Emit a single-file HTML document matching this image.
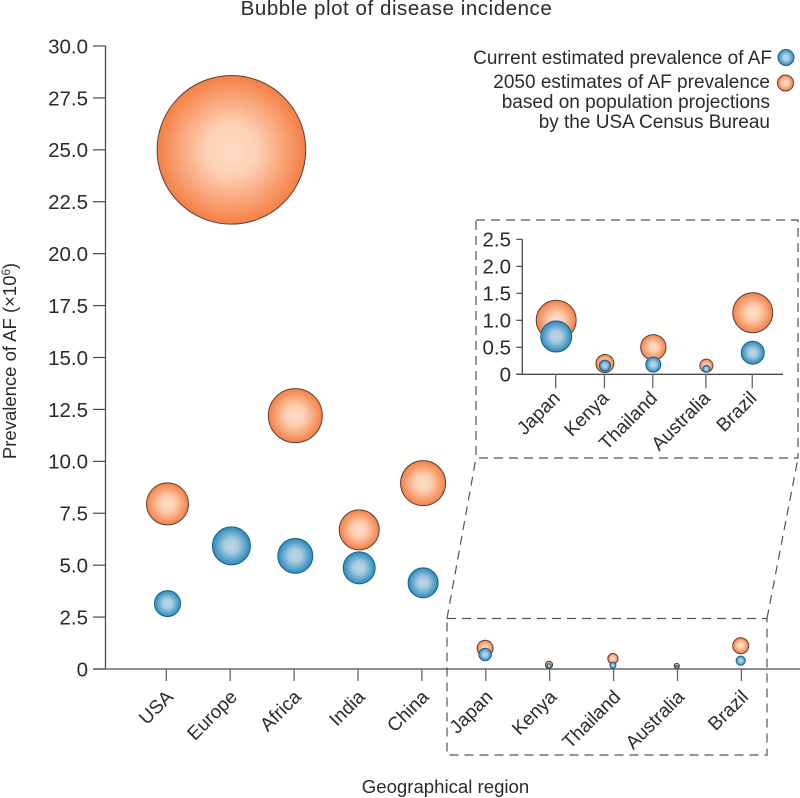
<!DOCTYPE html>
<html lang="en">
<head>
<meta charset="utf-8">
<title>Bubble plot of disease incidence</title>
<style>
html,body{margin:0;padding:0;background:#fff;}
svg{display:block;}
text{font-family:"Liberation Sans",Arial,sans-serif;fill:#2b2b2b;}
</style>
</head>
<body>
<svg id="chart" xmlns="http://www.w3.org/2000/svg" width="800" height="798" viewBox="0 0 800 798">
<defs>
<radialGradient id="orangeGrad" cx="50%" cy="50%" r="50%">
<stop offset="0%" stop-color="#fddcc8"/><stop offset="35%" stop-color="#fdd0b3"/><stop offset="100%" stop-color="#f57f45"/>
</radialGradient>
<radialGradient id="blueGrad" cx="50%" cy="50%" r="50%">
<stop offset="0%" stop-color="#bcd5e5"/><stop offset="35%" stop-color="#aacde1"/><stop offset="100%" stop-color="#2a8abd"/>
</radialGradient>
</defs>
<text x="396.500" y="15" text-anchor="middle" font-size="20.5" letter-spacing="0.55">Bubble plot of disease incidence</text>
<text x="445.500" y="793" text-anchor="middle" font-size="18.6">Geographical region</text>
<text transform="translate(16,361) rotate(-90)" text-anchor="middle" font-size="18.5">Prevalence of AF (×10<tspan dy="-6" font-size="11.500">6</tspan><tspan dy="6">)</tspan></text>
<g>
<text x="772" y="64" text-anchor="end" font-size="19">Current estimated prevalence of AF</text>
<circle cx="786" cy="57.500" r="8" fill="url(#blueGrad)" stroke="#1e5f85" stroke-width="1"/>
<text x="770" y="88" text-anchor="end" font-size="19">2050 estimates of AF prevalence</text>
<text x="770" y="108" text-anchor="end" font-size="19">based on population projections</text>
<text x="770" y="128" text-anchor="end" font-size="19">by the USA Census Bureau</text>
<circle cx="785.500" cy="83" r="8" fill="url(#orangeGrad)" stroke="#5a4438" stroke-width="1"/>
</g>
<g id="zoomGuides" fill="none" stroke="#555" stroke-width="1.2" stroke-dasharray="9 6">
<rect x="476" y="220" width="322" height="238"/>
<rect x="447" y="618.500" width="320" height="136.500"/>
<line x1="447" y1="618.500" x2="476" y2="458"/>
<line x1="767" y1="618.500" x2="798" y2="458"/>
</g>
<g id="mainPlot"></g>
<g id="insetPlot"></g>
</svg>
<script>
// Shared data
var mainCategories = ['USA','Europe','Africa','India','China','Japan','Kenya','Thailand','Australia','Brazil'];
var currentValues = [3.15,5.93,5.45,4.87,4.15,0.7,0.15,0.18,0.1,0.4];
var futureValues = [7.95,25.0,12.2,6.7,8.95,1.0,0.2,0.5,0.15,1.12];
var currentSizes = [13,19,17.5,16,15,6.2,2.2,3,1.4,4.6];
var futureSizes = [21,74.3,27,20,22.5,8,3.6,5.1,2.6,8];
var mainTickLabels = ['0','2.5','5.0','7.5','10.0','12.5','15.0','17.5','20.0','22.5','25.0','27.5','30.0'];
var mainTickValues = [0,2.5,5,7.5,10,12.5,15,17.5,20,22.5,25,27.5,30];
var insetCategories = ['Japan','Kenya','Thailand','Australia','Brazil'];
var insetCurrent = [0.7,0.16,0.18,0.1,0.4];
var insetFuture = [1.0,0.2,0.5,0.16,1.14];
var insetCurrentSizes = [15.5,5.5,7.5,3.5,11.5];
var insetFutureSizes = [20,9,12.7,6.5,20];
var insetTickLabels = ['0','0.5','1.0','1.5','2.0','2.5'];
var insetTickValues = [0,0.5,1,1.5,2,2.5];

var NS = 'http://www.w3.org/2000/svg';
function mk(parent, tag, attrs, text) {
  var el = document.createElementNS(NS, tag);
  for (var k in attrs) el.setAttribute(k, attrs[k]);
  if (text !== undefined) el.textContent = text;
  parent.appendChild(el);
  return el;
}
function kebab(s) { return String(s).toLowerCase().replace(/[^a-z0-9]+/g, '-'); }

// Main axis functions
function mainY(v) { return 669 - v * 623 / 30; }
function mainX(i) { return 166.3 + i * 63.9; }
// Inset axis functions
function insetY(v) { return 374.3 - v * 54; }
var insetSlots = [0, 1.45, 2.89, 4.47, 5.85];
function insetX(i) { return 555.7 + insetSlots[i] * 33.6; }

var mainG = document.getElementById('mainPlot');
var insetG = document.getElementById('insetPlot');

function drawAxes(g, prefix, x0, x1, yFn, tickVals, tickLabs, tickLeft, fontSize, labelX) {
  var top = yFn(tickVals[tickVals.length - 1]);
  var base = yFn(0);
  var yl = mk(g, 'line', {x1: x0, y1: top, x2: x0, y2: base, stroke: '#4a4a4a', 'stroke-width': 1.3});
  
  
  var xl = mk(g, 'line', {x1: x0 - tickLeft, y1: base, x2: x1, y2: base, stroke: '#4a4a4a', 'stroke-width': 1.3});
  
  
  tickVals.forEach(function (v, i) {
    var y = yFn(v);
    var t = mk(g, 'line', {x1: x0 - tickLeft, y1: y, x2: x0, y2: y, stroke: '#4a4a4a', 'stroke-width': 1.2});
    
    
    var lab = mk(g, 'text', {x: labelX, y: y + fontSize * 0.36, 'text-anchor': 'end', 'font-size': fontSize}, tickLabs[i]);
    
    
  });
}

function drawCategory(g, prefix, name, x, base, tickLen, labelDx, labelDy, fs) {
  var t = mk(g, 'line', {x1: x, y1: base, x2: x, y2: base + tickLen, stroke: '#666', 'stroke-width': 1.3});
  
  
  var lx = x + labelDx, ly = base + labelDy;
  var lab = mk(g, 'text', {x: lx, y: ly, 'text-anchor': 'end', 'font-size': fs, transform: 'rotate(-45 ' + lx + ' ' + ly + ')'}, name);
  
  
}

function bubble(g, x, y, r, kind, nameStr) {
  var c = mk(g, 'circle', {cx: x, cy: y, r: r,
    fill: kind === 'future' ? 'url(#orangeGrad)' : 'url(#blueGrad)',
    stroke: kind === 'future' ? '#55423a' : '#1e5f85', 'stroke-width': 1});
  
  
}

drawAxes(mainG, 'main', 105.5, 800, mainY, mainTickValues, mainTickLabels, 12.5, 20.5, 88);
mainCategories.forEach(function (name, i) {
  var x = mainX(i);
  var shift = i < 5 ? 1.2 : -0.7;
  drawCategory(mainG, 'main', name, x, mainY(0), 12, 8, 29, 19);
  bubble(mainG, x + shift, mainY(futureValues[i]), futureSizes[i], 'future', 'bubble-2050-' + kebab(name));
  bubble(mainG, x + shift, mainY(currentValues[i]), currentSizes[i], 'current', 'bubble-current-' + kebab(name));
});

drawAxes(insetG, 'inset', 522.3, 783, insetY, insetTickValues, insetTickLabels, 6, 20.5, 511);
insetCategories.forEach(function (name, i) {
  var x = insetX(i);
  drawCategory(insetG, 'inset', name, x, insetY(0), 14, 5.5, 25, 19);
  bubble(insetG, x + 0.5, insetY(insetFuture[i]), insetFutureSizes[i], 'future', 'inset-bubble-2050-' + kebab(name));
  bubble(insetG, x + 0.5, insetY(insetCurrent[i]), insetCurrentSizes[i], 'current', 'inset-bubble-current-' + kebab(name));
});
</script>
</body>
</html>
